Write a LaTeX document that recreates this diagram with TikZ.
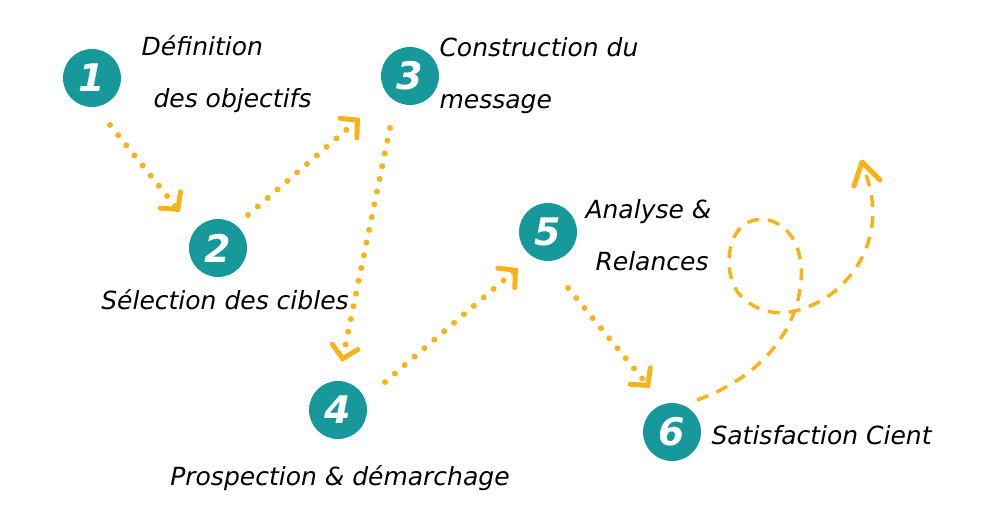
\documentclass[tikz,border=0pt]{standalone}
\usepackage{fontspec}
\setmainfont{DejaVu Sans}
\usetikzlibrary{arrows.meta}
\definecolor{teal1}{HTML}{17989A}
\definecolor{org}{HTML}{F6B41A}
\begin{document}
\begin{tikzpicture}[x=1pt,y=-1pt,
  num/.style={circle,fill=teal1,minimum size=58pt,inner sep=0pt,text=white,font=\fontsize{38}{38}\selectfont\bfseries\itshape},
  lbl/.style={font=\fontsize{25}{52}\selectfont\itshape,align=left},
  dots/.style={org,line width=6pt,dash pattern=on 0pt off 13pt,line cap=round,-{Straight Barb[length=12pt,width=26pt,line width=5pt,line cap=round]}},
  dsh/.style={org,line width=3.5pt,dash pattern=on 12pt off 9pt}]
\useasboundingbox (0,0) rectangle (985,518);
\node[num] (n1) at (92,78) {1};
\node[num] (n2) at (218,248) {2};
\node[num] (n3) at (410,76) {3};
\node[num] (n4) at (338,410) {4};
\node[num] (n5) at (548,232) {5};
\node[num] (n6) at (672,432) {6};
\node[lbl,anchor=west] (t1) at (138,74) {Définition\\\hspace{12pt}des objectifs};
\node[lbl] (t2) at (225,300) {Sélection des cibles};
\node[lbl,anchor=west] (t3) at (436,76) {Construction du\\message};
\node[lbl] (t4) at (340,478) {Prospection \& démarchage};
\node[lbl,anchor=west] (t5) at (582,235) {Analyse \&\\\hspace{10pt}Relances};
\node[lbl,anchor=west] (t6) at (708,435) {Satisfaction Cient};
\coordinate (a1) at (110,125); \coordinate (b1) at (180,212);
\coordinate (a2) at (248,215); \coordinate (b2) at (360,118);
\coordinate (a3) at (390,128); \coordinate (b3) at (342,362);
\coordinate (a4) at (385,382); \coordinate (b4) at (518,268);
\coordinate (a5) at (568,288); \coordinate (b5) at (650,388);
\draw[dots] (a1) -- (b1);
\draw[dots] (a2) -- (b2);
\draw[dots] (a3) -- (b3);
\draw[dots] (a4) -- (b4);
\draw[dots] (a5) -- (b5);
\coordinate (c0) at (697,400); \coordinate (c1) at (862,165);
\draw[dsh] (c0) .. controls (740,385) and (790,350) .. (800,290)
  .. controls (808,240) and (780,215) .. (755,220)
  .. controls (725,225) and (720,280) .. (745,300)
  .. controls (770,320) and (800,315) .. (830,295)
  .. controls (870,265) and (885,215) .. (c1);
\draw[org,line width=5pt,line cap=round,line join=round] (854,186) -- (862,162) -- (880,180);
\end{tikzpicture}
\end{document}
